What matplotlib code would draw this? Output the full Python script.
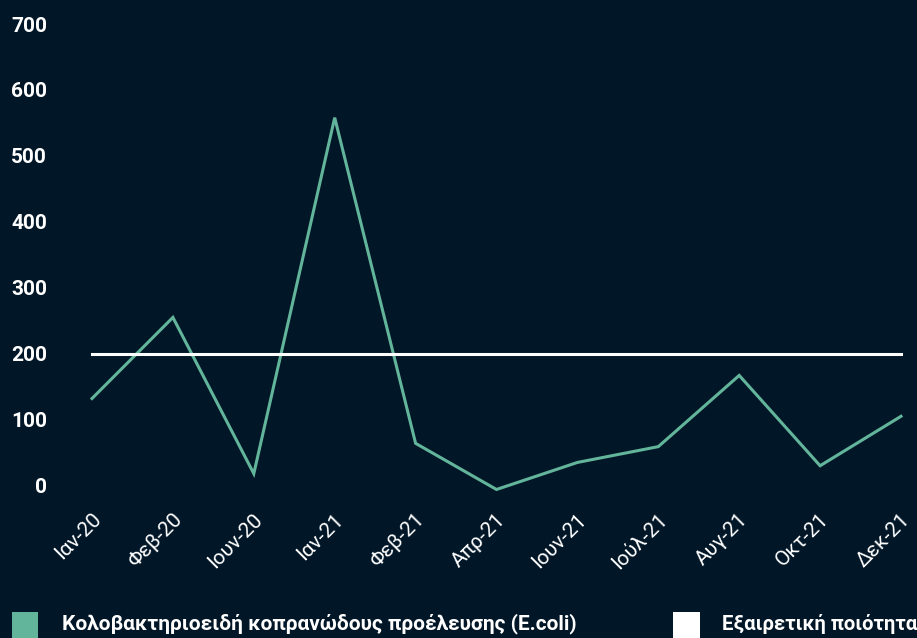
import matplotlib
matplotlib.use("Agg")
import matplotlib.pyplot as plt
from matplotlib.patches import Rectangle
from matplotlib.transforms import ScaledTranslation

months = ["Ιαν-20", "Φεβ-20", "Ιουν-20", "Ιαν-21", "Φεβ-21", "Απρ-21",
          "Ιουν-21", "Ιούλ-21", "Αυγ-21", "Οκτ-21", "Δεκ-21"]
ecoli = [132, 255, 18, 558, 64, -6, 35, 59, 167, 30, 105]
excellent = [200] * len(months)
yticks = [0, 100, 200, 300, 400, 500, 600, 700]

series_label = "Κολοβακτηριοειδή κοπρανώδους προέλευσης (E.coli)"
limit_label = "Εξαιρετική ποιότητα"

BG = "#011627"
TEAL = "#62B59B"
W, H = 917, 638

plt.rcParams['font.family'] = ['Roboto', 'DejaVu Sans']

fig = plt.figure(figsize=(W / 100, H / 100), dpi=100, facecolor=BG)
ax = fig.add_axes([92 / W, (H - 505.3) / H, (901 - 92) / W, 0.775])
ax.set_facecolor(BG)

x = list(range(len(months)))
ax.plot(x, ecoli, color=TEAL, lw=2.2, clip_on=False, solid_joinstyle='miter')
ax.plot(x, excellent, color="white", lw=2.2, clip_on=False)

ax.set_xlim(0, len(months) - 1)
ax.set_ylim(-30, 720)
ax.set_yticks(yticks)
ax.set_yticklabels([str(v) for v in yticks], fontsize=15, fontweight='bold', color='white')
ax.set_xticks(x)
ax.set_xticklabels(months, rotation=45, ha='right', va='center',
                   rotation_mode='anchor', fontsize=15, color='white')
ax.tick_params(axis='both', length=0)
ax.tick_params(axis='y', pad=45 * 72 / 100)
ax.tick_params(axis='x', pad=8)
for lab in ax.get_xticklabels():
    lab.set_transform(lab.get_transform() + ScaledTranslation(6 / 100, 0, fig.dpi_scale_trans))
for s in ax.spines.values():
    s.set_visible(False)

# legend
fig.patches.append(Rectangle((12 / W, 0), 26 / W, (H - 612) / H,
                             transform=fig.transFigure, facecolor=TEAL, edgecolor='none'))
fig.patches.append(Rectangle((673 / W, 0), 27 / W, (H - 612) / H,
                             transform=fig.transFigure, facecolor='white', edgecolor='none'))
fig.text(62 / W, (H - 624) / H, series_label, color='white', fontsize=15,
         fontweight='bold', va='center', ha='left')
fig.text(722 / W, (H - 624) / H, limit_label, color='white', fontsize=14.6,
         fontweight='bold', va='center', ha='left')

fig.savefig("out.png", dpi=100, facecolor=BG)
